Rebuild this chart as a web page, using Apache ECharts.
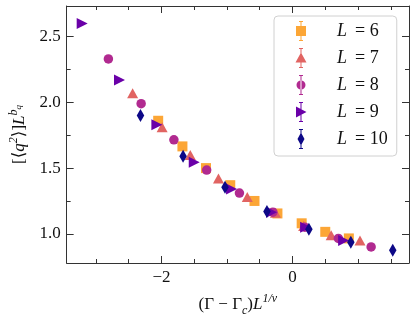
<!DOCTYPE html>
<html>
<head>
<meta charset="utf-8">
<script src="https://cdn.jsdelivr.net/npm/echarts@6/dist/echarts.min.js"></script>
<style>
  html, body { margin: 0; padding: 0; background: #fff; }
  #main { width: 416px; height: 322px; }
</style>
</head>
<body>
<div id="main"></div>
<script>
var sizes = [6, 7, 8, 9, 10];

var xL6 = [-2.05, -1.68, -1.32, -0.95, -0.58, -0.23, 0.14, 0.50, 0.86];
var yL6 = [1.86, 1.665, 1.50, 1.37, 1.25, 1.155, 1.08, 1.015, 0.965];

var xL7 = [-2.44, -1.99, -1.56, -1.13, -0.69, -0.26, 0.17, 0.59, 1.03];
var yL7 = [2.07, 1.81, 1.60, 1.42, 1.28, 1.16, 1.06, 0.99, 0.95];

var xL8 = [-2.81, -2.31, -1.81, -1.31, -0.81, -0.30, 0.19, 0.70, 1.20];
var yL8 = [2.33, 1.99, 1.715, 1.485, 1.31, 1.165, 1.05, 0.965, 0.90];

var xL9 = [-3.21, -2.64, -2.07, -1.50, -0.93, -0.32, 0.20, 0.78];
var yL9 = [2.60, 2.17, 1.83, 1.545, 1.34, 1.165, 1.05, 0.95];

var xL10 = [-2.32, -1.67, -1.03, -0.39, 0.25, 0.89, 1.53];
var yL10 = [1.90, 1.59, 1.355, 1.17, 1.035, 0.935, 0.875];

var xMajor = [-2, 0];
var xMinor = [-3, -2.5, -1.5, -1, -0.5, 0.5, 1, 1.5];
var yMajor = [1.0, 1.5, 2.0, 2.5];
var yMinor = [1.25, 1.75, 2.25];

var xs = [xL6, xL7, xL8, xL9, xL10];
var ys = [yL6, yL7, yL8, yL9, yL10];
var colors = ['#fca636', '#e16462', '#b12a90', '#6a00a8', '#0d0887'];

var FONT = '"Liberation Serif", "DejaVu Serif", serif';
var AX = '#333';
var X_MIN = -3.447, X_MAX = 1.778, Y_MIN = 0.778, Y_MAX = 2.733;

// legend icons: error bar + marker, drawn in a 14x20 box
var bar = 'M0 0L0 0.001Z M14 20L14 20.001Z M6.5 0L7.5 0L7.5 20L6.5 20Z M5 0L9 0L9 1L5 1Z M5 19L9 19L9 20L5 20Z ';
var icons = [
  bar + 'M2 5L12 5L12 15L2 15Z',
  bar + 'M7 4.5L12.5 14.5L1.5 14.5Z',
  bar + 'M2.5 10A4.5 4.5 0 1 0 11.5 10A4.5 4.5 0 1 0 2.5 10Z',
  bar + 'M2 4.5L12.5 10L2 15.5Z',
  bar + 'M7 3.5L10.5 10L7 16.5L3.5 10Z'
];

var symbols = ['rect', 'triangle', 'circle', 'triangle', 'diamond'];
var symbolSizes = [10, [11, 10], 9.5, [11, 11], [7.5, 13]];
var rotations = [0, 0, 0, -90, 0];

function pairs(a, b) {
  return a.map(function (v, i) { return [v, b[i]]; });
}

function minus(v) {
  return v < 0 ? '\u2212' + Math.abs(v) : String(v);
}

function xAxisDef(pos, major, show) {
  return {
    type: 'value', position: pos, min: X_MIN, max: X_MAX,
    axisLine: { show: show, onZero: false, lineStyle: { color: AX, width: 1 } },
    axisTick: { show: true, inside: true, length: major ? 7 : 4,
      customValues: major ? xMajor : xMinor, lineStyle: { color: AX, width: 1 } },
    axisLabel: { show: pos === 'bottom' && major, customValues: xMajor, margin: 6,
      formatter: minus, fontFamily: FONT, fontSize: 17, color: '#111' },
    splitLine: { show: false }
  };
}

function yAxisDef(pos, major, show) {
  return {
    type: 'value', position: pos, min: Y_MIN, max: Y_MAX,
    axisLine: { show: show, onZero: false, lineStyle: { color: AX, width: 1 } },
    axisTick: { show: true, inside: true, length: major ? 7 : 4,
      customValues: major ? yMajor : yMinor, lineStyle: { color: AX, width: 1 } },
    axisLabel: { show: pos === 'left' && major, customValues: yMajor, margin: 6,
      formatter: function (v) { return v.toFixed(1); },
      fontFamily: FONT, fontSize: 17, color: '#111' },
    splitLine: { show: false }
  };
}

var xAxes = [xAxisDef('bottom', true, true), xAxisDef('bottom', false, false),
             xAxisDef('top', true, true), xAxisDef('top', false, false)];
var yAxes = [yAxisDef('left', true, true), yAxisDef('left', false, false),
             yAxisDef('right', true, true), yAxisDef('right', false, false)];

xAxes[0].name = '{n|(\u0393 \u2212 \u0393}{sub|c}{n|)}{i|L}{sup|1/\u03bd}';
xAxes[0].nameLocation = 'middle';
xAxes[0].nameGap = 30;
xAxes[0].nameTextStyle = {
  fontFamily: FONT, color: '#111',
  rich: {
    n: { fontFamily: FONT, fontSize: 17, lineHeight: 24, color: '#111' },
    i: { fontFamily: FONT, fontSize: 17, lineHeight: 24, fontStyle: 'italic', color: '#111' },
    sub: { fontFamily: FONT, fontSize: 12, lineHeight: 12, fontStyle: 'italic', verticalAlign: 'bottom', color: '#111' },
    sup: { fontFamily: FONT, fontSize: 12, lineHeight: 12, fontStyle: 'italic', verticalAlign: 'top', color: '#111' }
  }
};

yAxes[0].name = '{n|[\u27e8}{i|q}{sup|2}{n|\u27e9]}{i|L}{sup|b}{ss|q}';
yAxes[0].nameLocation = 'middle';
yAxes[0].nameGap = 33;
yAxes[0].nameTextStyle = {
  fontFamily: FONT, color: '#111',
  rich: {
    n: { fontFamily: FONT, fontSize: 17, lineHeight: 24, color: '#111' },
    i: { fontFamily: FONT, fontSize: 17, lineHeight: 24, fontStyle: 'italic', color: '#111' },
    sup: { fontFamily: FONT, fontSize: 12, lineHeight: 12, fontStyle: 'italic', verticalAlign: 'top', color: '#111' },
    ss: { fontFamily: FONT, fontSize: 9, lineHeight: 9, fontStyle: 'italic', verticalAlign: 'top', padding: [6, 0, 0, 0], color: '#111' }
  }
};

var series = sizes.map(function (L, k) {
  return {
    name: 'L = ' + L,
    type: 'scatter',
    xAxisIndex: 0, yAxisIndex: 0,
    symbol: symbols[k],
    symbolSize: symbolSizes[k],
    symbolRotate: rotations[k],
    itemStyle: { color: colors[k], opacity: 1 },
    emphasis: { disabled: true },
    data: pairs(xs[k], ys[k])
  };
});

var myChart = echarts.init(document.getElementById('main'), null, { renderer: 'canvas' });

var option = {
  animation: false,
  color: colors,
  grid: { left: 62, right: 7, top: 6, bottom: 58, containLabel: false },
  legend: {
    orient: 'vertical',
    left: 274, top: 16,
    padding: [5, 9, 7, 20],
    itemWidth: 14, itemHeight: 20, itemGap: 7,
    backgroundColor: 'rgba(255,255,255,0.8)',
    borderColor: '#d0d0d0', borderWidth: 1, borderRadius: 4,
    data: sizes.map(function (L, k) {
      return { name: 'L = ' + L, icon: 'path://' + icons[k] };
    }),
    formatter: function (name) {
      return '{i|L}{n|\u2009' + name.slice(1) + '}';
    },
    textStyle: {
      padding: [0, 0, 0, 24],
      rich: {
        i: { fontFamily: FONT, fontSize: 18, lineHeight: 20, fontStyle: 'italic', color: '#111' },
        n: { fontFamily: FONT, fontSize: 18, lineHeight: 20, color: '#111' }
      }
    }
  },
  xAxis: xAxes,
  yAxis: yAxes,
  series: series
};

myChart.setOption(option);
</script>
</body>
</html>
